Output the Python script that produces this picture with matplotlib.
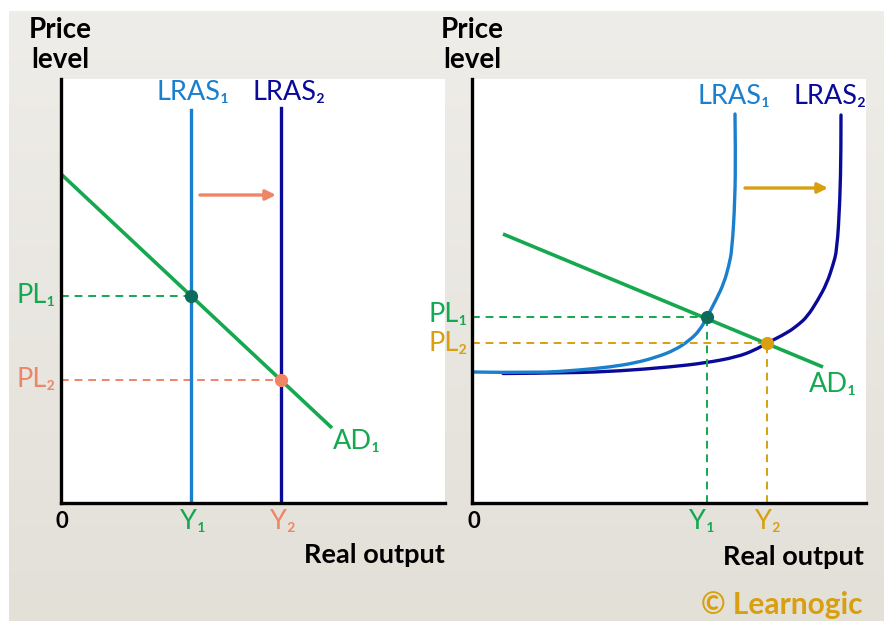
import matplotlib
matplotlib.use("Agg")
import matplotlib.pyplot as plt
from matplotlib.path import Path
from matplotlib.patches import PathPatch
import numpy as np

plt.rcParams['font.family'] = ['Lato', 'DejaVu Sans']

# colours
C_LRAS1 = "#1a7fcc"
C_LRAS2 = "#0a0a9a"
C_AD = "#15a84f"
C_GREEN_TXT = "#14a850"
C_DOT1 = "#0d6b5e"
C_CORAL = "#ef8567"
C_GOLD = "#d8a010"

# ---- left panel data (vertical LRAS) ----
lras_x = [13.0, 22.0]
lras_top = [39.3, 39.5]
ad_left_x = [0.0, 27.1]
ad_left_y = [32.9, 7.5]
pl_left = [20.7, 12.3]
shift_left = [13.9, 21.5]   # arrow start/end
shift_left_y = 30.8

# ---- right panel data (curved LRAS) ----
lras1_x = [0, 6.5, 10.8, 13.8, 16.3, 18.5, 20.3, 21.8, 22.8, 23.5, 24.4, 25.2,
           25.7, 26.0, 26.3, 26.35, 26.3]
lras1_y = [13.1, 13.0, 13.3, 13.6, 14.0, 14.6, 15.3, 16.3, 17.3, 18.6, 20.3, 22.0,
           23.8, 25.3, 30.3, 35.3, 38.9]
lras2_x = [3.1, 9.8, 14.8, 19.8, 23.3, 26.5, 28.3, 29.5, 31.5, 32.6, 33.5, 34.6,
           35.5, 36.1, 36.5, 36.8, 36.9, 36.9]
lras2_y = [12.95, 13.0, 13.2, 13.6, 14.0, 14.6, 15.3, 16.0, 17.0, 17.8, 18.6, 20.3,
           22.0, 23.8, 25.3, 30.3, 35.3, 38.8]
ad_right_x = [3.1, 35.1]
ad_right_y = [26.9, 13.6]
eq_right_x = [23.5, 29.5]
eq_right_y = [18.6, 16.0]
shift_right = [27.3, 35.6]
shift_right_y = 31.5

W, H = 884, 621
fig = plt.figure(figsize=(W / 100, H / 100), dpi=100)
fig.patch.set_facecolor("white")

# beige gradient background
bg = fig.add_axes([9 / W, 0, 1 - 9 / W, 1 - 11 / H])
top = np.array([239, 237, 233]) / 255
bot = np.array([227, 224, 216]) / 255
t = np.linspace(0, 1, 200)[:, None]
grad = top[None, :] * (1 - t) + bot[None, :] * t
bg.imshow(grad[:, None, :], aspect='auto', extent=[0, 1, 0, 1])
bg.axis('off')


def make_ax(x0, x1):
    ax = fig.add_axes([x0 / W, (H - 503) / H, (x1 - x0) / W, (503 - 79) / H])
    ax.set_facecolor("white")
    ax.set_xlim(0, (x1 - x0) / 10)
    ax.set_ylim(0, 42.4)
    for s in ["top", "right"]:
        ax.spines[s].set_visible(False)
    for s in ["left", "bottom"]:
        ax.spines[s].set_linewidth(2.4)
        ax.spines[s].set_color("black")
    ax.set_xticks([])
    ax.set_yticks([])
    return ax


def smooth_curve(ax, xs, ys, color):
    # quadratic bezier through midpoints of the read points
    pts = list(zip(xs, ys))
    verts = [pts[0]]
    codes = [Path.MOVETO]
    for i in range(1, len(pts) - 1):
        mid = ((pts[i][0] + pts[i + 1][0]) / 2, (pts[i][1] + pts[i + 1][1]) / 2)
        if i == len(pts) - 2:
            mid = pts[-1]
        verts += [pts[i], mid]
        codes += [Path.CURVE3, Path.CURVE3]
    ax.add_patch(PathPatch(Path(verts, codes), facecolor='none', edgecolor=color,
                           lw=2.4, capstyle='round'))


fs = 19.5

# ================= left panel =================
ax1 = make_ax(61, 445)
ax1.plot([0, lras_x[0]], [pl_left[0], pl_left[0]], ls=(0, (4, 3)), color=C_AD, lw=1.4)
ax1.plot([0, lras_x[1]], [pl_left[1], pl_left[1]], ls=(0, (4, 3)), color=C_CORAL, lw=1.4)
ax1.plot([lras_x[0], lras_x[0]], [0, lras_top[0]], color=C_LRAS1, lw=2.4)
ax1.plot([lras_x[1], lras_x[1]], [0, lras_top[1]], color=C_LRAS2, lw=2.4)
ax1.plot(ad_left_x, ad_left_y, color=C_AD, lw=2.6, solid_capstyle='butt')
ax1.plot(lras_x[0], pl_left[0], 'o', color=C_DOT1, ms=8.5, zorder=5)
ax1.plot(lras_x[1], pl_left[1], 'o', color=C_CORAL, ms=8.5, zorder=5)
ax1.annotate("", xy=(shift_left[1], shift_left_y), xytext=(shift_left[0], shift_left_y),
             arrowprops=dict(arrowstyle="-|>,head_length=0.6,head_width=0.3",
                             color=C_CORAL, lw=2.4, shrinkA=0, shrinkB=0))
ax1.text(13.2, 41.0, "LRAS₁", color=C_LRAS1, fontsize=fs, ha='center', va='center', clip_on=False)
ax1.text(22.8, 41.0, "LRAS₂", color=C_LRAS2, fontsize=fs, ha='center', va='center', clip_on=False)
ax1.text(29.6, 6.2, "AD₁", color=C_GREEN_TXT, fontsize=fs, ha='center', va='center')
ax1.text(-0.5, pl_left[0], "PL₁", color=C_GREEN_TXT, fontsize=fs, ha='right', va='center', clip_on=False)
ax1.text(-0.5, pl_left[1], "PL₂", color=C_CORAL, fontsize=fs, ha='right', va='center', clip_on=False)
ax1.text(13.2, -1.9, "Y₁", color=C_GREEN_TXT, fontsize=fs, ha='center', va='center', clip_on=False)
ax1.text(22.2, -1.9, "Y₂", color=C_CORAL, fontsize=fs, ha='center', va='center', clip_on=False)
ax1.text(0.1, -1.9, "0", color="black", fontsize=16, fontweight='bold', ha='center', va='center', clip_on=False)
ax1.text(31.3, -5.2, "Real output", color="black", fontsize=19.5, fontweight='bold',
         ha='center', va='center', clip_on=False)

# ================= right panel =================
ax2 = make_ax(472, 866)
for ex, ey, c in zip(eq_right_x, eq_right_y, [C_AD, C_GOLD]):
    ax2.plot([0, ex], [ey, ey], ls=(0, (4, 3)), color=c, lw=1.4)
    ax2.plot([ex, ex], [0, ey], ls=(0, (4, 3)), color=c, lw=1.4)
smooth_curve(ax2, lras2_x, lras2_y, C_LRAS2)
smooth_curve(ax2, lras1_x, lras1_y, C_LRAS1)
ax2.plot(ad_right_x, ad_right_y, color=C_AD, lw=2.6, solid_capstyle='butt')
ax2.plot(eq_right_x[0], eq_right_y[0], 'o', color=C_DOT1, ms=8.5, zorder=5)
ax2.plot(eq_right_x[1], eq_right_y[1], 'o', color=C_GOLD, ms=8.5, zorder=5)
ax2.annotate("", xy=(shift_right[1], shift_right_y), xytext=(shift_right[0], shift_right_y),
             arrowprops=dict(arrowstyle="-|>,head_length=0.6,head_width=0.3",
                             color=C_GOLD, lw=2.4, shrinkA=0, shrinkB=0))
ax2.text(26.2, 40.6, "LRAS₁", color=C_LRAS1, fontsize=fs, ha='center', va='center', clip_on=False)
ax2.text(35.8, 40.6, "LRAS₂", color=C_LRAS2, fontsize=fs, ha='center', va='center', clip_on=False)
ax2.text(36.1, 11.8, "AD₁", color=C_GREEN_TXT, fontsize=fs, ha='center', va='center')
ax2.text(-0.4, eq_right_y[0] + 0.2, "PL₁", color=C_GREEN_TXT, fontsize=fs, ha='right', va='center', clip_on=False)
ax2.text(-0.4, eq_right_y[1] - 0.1, "PL₂", color=C_GOLD, fontsize=fs, ha='right', va='center', clip_on=False)
ax2.text(23.0, -1.9, "Y₁", color=C_GREEN_TXT, fontsize=fs, ha='center', va='center', clip_on=False)
ax2.text(29.6, -1.9, "Y₂", color=C_GOLD, fontsize=fs, ha='center', va='center', clip_on=False)
ax2.text(0.2, -1.9, "0", color="black", fontsize=16, fontweight='bold', ha='center', va='center', clip_on=False)
ax2.text(32.1, -5.4, "Real output", color="black", fontsize=19.5, fontweight='bold',
         ha='center', va='center', clip_on=False)

# axis titles and credit
fig.text(60 / W, 1 - 45 / H, "Price\nlevel", fontsize=20, fontweight='bold',
         ha='center', va='center', linespacing=1.2)
fig.text(472 / W, 1 - 45 / H, "Price\nlevel", fontsize=20, fontweight='bold',
         ha='center', va='center', linespacing=1.2)
fig.text(782 / W, 1 - 605 / H, "© Learnogic", fontsize=21.5, fontweight='bold',
         color=C_GOLD, ha='center', va='center')

fig.savefig("out.png", dpi=100)
